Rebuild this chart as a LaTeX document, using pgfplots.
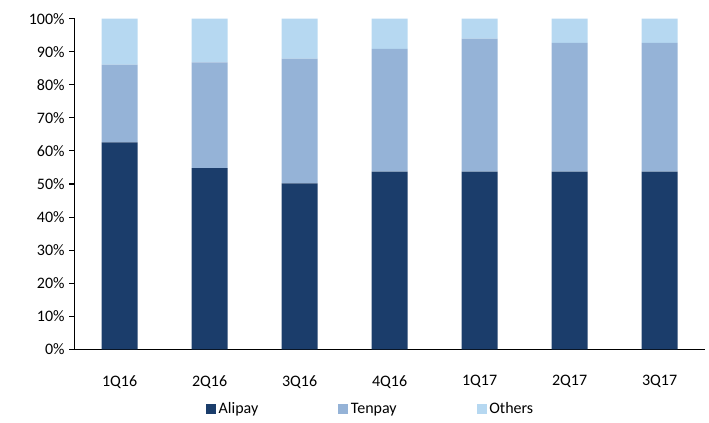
\documentclass[border=0pt]{standalone}
\usepackage{pgfplots}
\pgfplotsset{compat=1.18}
\usepackage{fontspec}
\setmainfont{Carlito}
\definecolor{Alipay}{RGB}{27,61,107}
\definecolor{Tenpay}{RGB}{149,179,215}
\definecolor{Others}{RGB}{182,216,241}
\begin{document}
\begin{tikzpicture}
\begin{axis}[
    name=ax,
    ybar stacked,
    scale only axis,
    width=472.5pt, height=248pt,
    bar width=0.4,
    xmin=-0.5, xmax=6.5,
    ymin=0, ymax=100,
    axis x line*=bottom, axis y line*=left,
    axis line style={black, line width=0.9pt},
    xtick={0,...,6},
    xticklabels={1Q16,2Q16,3Q16,4Q16,1Q17,2Q17,3Q17},
    major x tick style={draw=none},
    extra x ticks={-0.5,0.5,...,6.5},
    extra x tick labels={},
    extra x tick style={major tick length=4pt, tick style={black, line width=0.8pt}, tick align=outside},
    x tick label style={yshift=-12pt},
    ytick={0,10,...,100},
    yticklabel={\pgfmathprintnumber{\tick}\%},
    y tick style={black, line width=0.8pt},
    tick align=outside,
    major tick length=4pt,
    /pgf/number format/assume math mode=true,
    tick label style={font=\fontsize{12}{14}\selectfont},
    legend style={at={(0.5,0)}, anchor=center, yshift=-45pt, xshift=-14pt,
        draw=none, legend columns=3,
        font=\fontsize{12}{14}\selectfont,
        /tikz/every even column/.append style={column sep=58pt}},
    legend image code/.code={\fill[#1] (0pt,-3.5pt) rectangle (7.5pt,4pt);},
]
\addplot[fill=Alipay, draw=none] coordinates {(0,62.6) (1,54.8) (2,50.2) (3,53.7) (4,53.7) (5,53.7) (6,53.7)};
\addplot[fill=Tenpay, draw=none] coordinates {(0,23.5) (1,32.0) (2,37.7) (3,37.2) (4,40.3) (5,39.0) (6,39.0)};
\addplot[fill=Others, draw=none] coordinates {(0,13.9) (1,13.2) (2,12.1) (3,9.1) (4,6.0) (5,7.3) (6,7.3)};
\legend{Alipay, Tenpay, Others}
\end{axis}
\path ([xshift=-56pt,yshift=14pt]ax.north west) ([xshift=3pt,yshift=-55pt]ax.south east);
\end{tikzpicture}
\end{document}
